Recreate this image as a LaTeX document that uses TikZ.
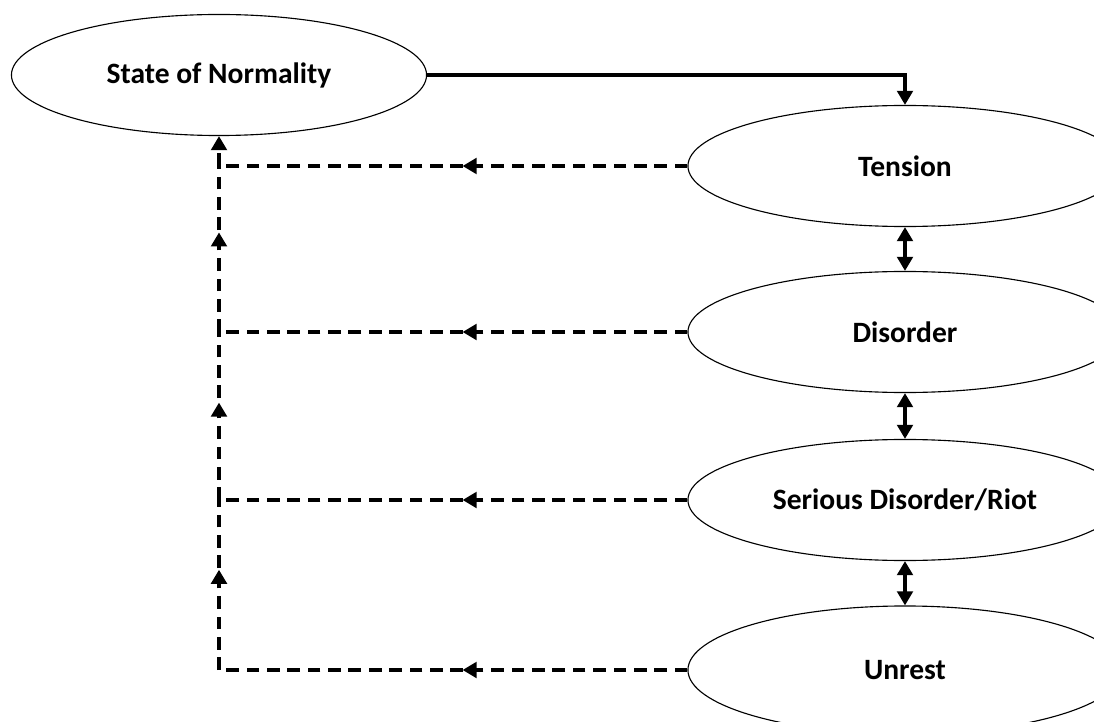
\documentclass[tikz,border=0pt]{standalone}
\usepackage{fontspec}
\setmainfont{Carlito}
\usetikzlibrary{shapes.geometric,arrows.meta,decorations.markings}

\begin{document}
\begin{tikzpicture}[x=0.025cm, y=-0.025cm,
  state/.style={draw, ellipse, line width=0.8pt, minimum width=10.85cm, minimum height=3.025cm, font=\fontsize{21}{25}\selectfont\bfseries},
  link/.style={line width=2.8pt, -{Triangle[length=10pt, width=11pt]}},
  both/.style={line width=2.8pt, {Triangle[length=10pt, width=11pt]}-{Triangle[length=10pt, width=11pt]}},
  back/.style={line width=2.8pt, dash pattern=on 9pt off 5.5pt},
  midarrow/.style={postaction={decorate}, decoration={markings, mark=at position #1 with {\arrow{Triangle[length=10pt, width=11pt]}}}}]
\useasboundingbox (0,0) rectangle (1094,722);
\node[state, minimum width=10.375cm] (normal) at (219, 75) {State of Normality};
\node[state] (tension) at (905, 166) {Tension};
\node[state] (disorder) at (905, 332) {Disorder};
\node[state] (riot) at (905, 500) {Serious Disorder/Riot};
\node[state, minimum height=3.2cm] (unrest) at (905, 670) {Unrest};
\coordinate (c1) at (219, 166);
\coordinate (c2) at (219, 332);
\coordinate (c3) at (219, 500);
\coordinate (c4) at (219, 670);
\draw[link] (normal.east) -| (tension.north);
\draw[both] (tension.south) -- (disorder.north);
\draw[both] (disorder.south) -- (riot.north);
\draw[both] (riot.south) -- (unrest.north);
% way back to normality
\draw[back, midarrow=0.48] (tension.west) -- (c1);
\draw[back, midarrow=0.48] (disorder.west) -- (c2);
\draw[back, midarrow=0.48] (riot.west) -- (c3);
\draw[back, midarrow=0.48] (unrest.west) -- (c4);
\draw[back, midarrow=0.59] (c4) -- (c3);
\draw[back, midarrow=0.58] (c3) -- (c2);
\draw[back, midarrow=0.6] (c2) -- (c1);
\draw[back, -{Triangle[length=10pt, width=11pt]}] (c1) -- (normal.south);
\end{tikzpicture}
\end{document}
